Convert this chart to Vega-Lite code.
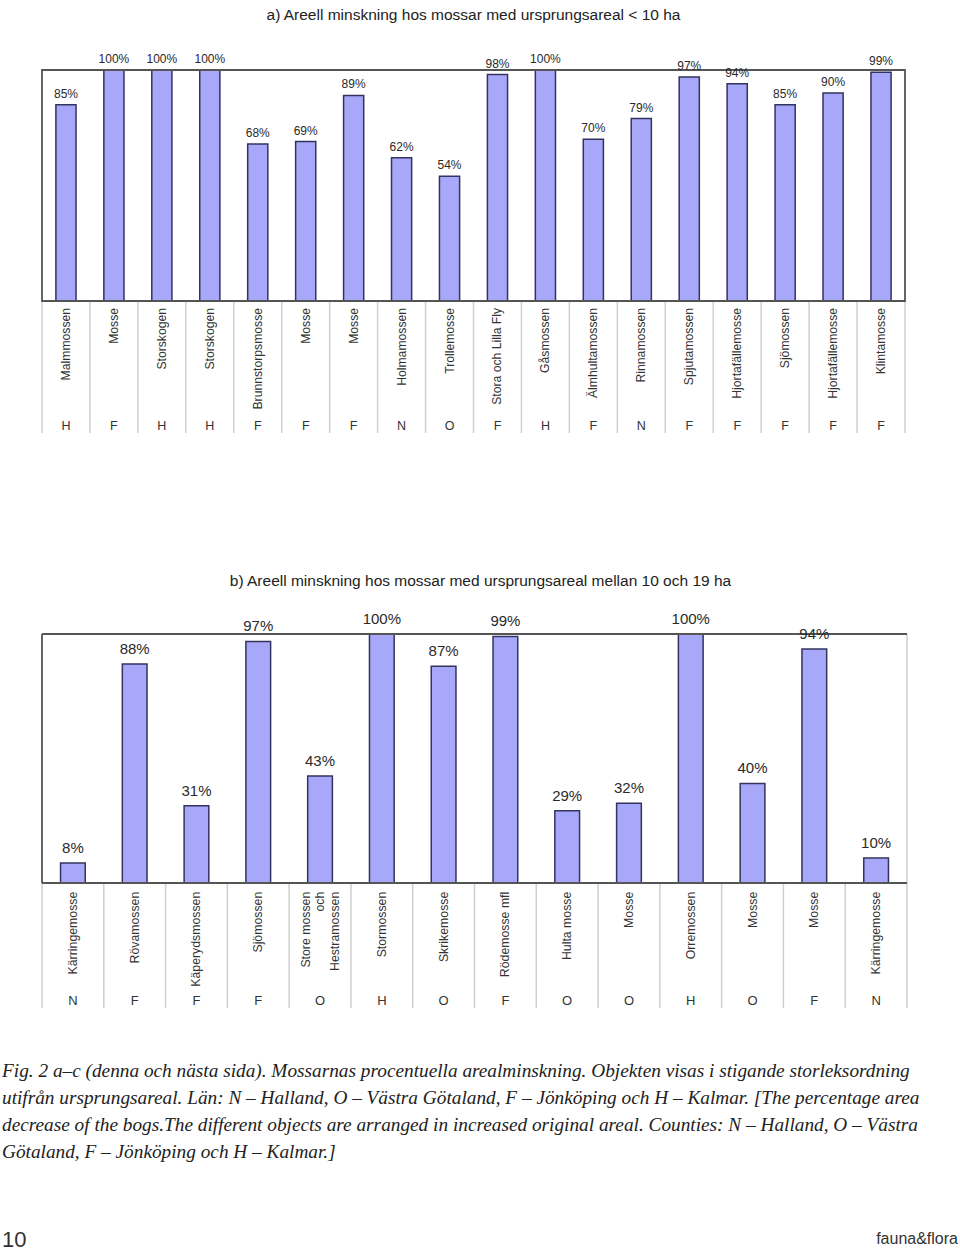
{
  "$schema": "https://vega.github.io/schema/vega-lite/v6.json",
  "background": "white",
  "padding": {"left": 2, "top": 7, "right": 0, "bottom": 0},
  "autosize": {"type": "pad"},
  "bounds": "flush",
  "spacing": 0,
  "config": {"view": {"stroke": null}, "font": "Liberation Sans"},
  "datasets": {
    "a": [
      {"id": 1, "name": "Malmmossen", "lan": "H", "pct": 0.85},
      {"id": 2, "name": "Mosse", "lan": "F", "pct": 1.0},
      {"id": 3, "name": "Storskogen", "lan": "H", "pct": 1.0},
      {"id": 4, "name": "Storskogen", "lan": "H", "pct": 1.0},
      {"id": 5, "name": "Brunnstorpsmosse", "lan": "F", "pct": 0.68},
      {"id": 6, "name": "Mosse", "lan": "F", "pct": 0.69},
      {"id": 7, "name": "Mosse", "lan": "F", "pct": 0.89},
      {"id": 8, "name": "Holmamossen", "lan": "N", "pct": 0.62},
      {"id": 9, "name": "Trollemosse", "lan": "O", "pct": 0.54},
      {"id": 10, "name": "Stora och Lilla Fly", "lan": "F", "pct": 0.98},
      {"id": 11, "name": "Gåsmossen", "lan": "H", "pct": 1.0},
      {"id": 12, "name": "Älmhultamossen", "lan": "F", "pct": 0.70},
      {"id": 13, "name": "Rinnamossen", "lan": "N", "pct": 0.79},
      {"id": 14, "name": "Spjutamossen", "lan": "F", "pct": 0.97},
      {"id": 15, "name": "Hjortafällemosse", "lan": "F", "pct": 0.94},
      {"id": 16, "name": "Sjömossen", "lan": "F", "pct": 0.85},
      {"id": 17, "name": "Hjortafällemosse", "lan": "F", "pct": 0.90},
      {"id": 18, "name": "Klintamosse", "lan": "F", "pct": 0.99}
    ],
    "b": [
      {"id": 1, "name": "Kärringemosse", "lan": "N", "pct": 0.08},
      {"id": 2, "name": "Rövamossen", "lan": "F", "pct": 0.88},
      {"id": 3, "name": "Käperydsmossen", "lan": "F", "pct": 0.31},
      {"id": 4, "name": "Sjömossen", "lan": "F", "pct": 0.97},
      {"id": 5, "name": "Store mossen\noch\nHestramossen", "lan": "O", "pct": 0.43},
      {"id": 6, "name": "Stormossen", "lan": "H", "pct": 1.0},
      {"id": 7, "name": "Skrikemosse", "lan": "O", "pct": 0.87},
      {"id": 8, "name": "Rödemosse mfl", "lan": "F", "pct": 0.99},
      {"id": 9, "name": "Hulta mosse", "lan": "O", "pct": 0.29},
      {"id": 10, "name": "Mosse", "lan": "O", "pct": 0.32},
      {"id": 11, "name": "Orremossen", "lan": "H", "pct": 1.0},
      {"id": 12, "name": "Mosse", "lan": "O", "pct": 0.40},
      {"id": 13, "name": "Mosse", "lan": "F", "pct": 0.94},
      {"id": 14, "name": "Kärringemosse", "lan": "N", "pct": 0.10}
    ]
  },
  "vconcat": [
    {
      "width": 863,
      "height": 564,
      "data": {"name": "a"},
      "title": {"text": "a) Areell minskning hos mossar med ursprungsareal < 10 ha", "font": "Liberation Sans", "fontSize": 15.5, "fontWeight": "normal", "color": "#222", "anchor": "middle", "baseline": "alphabetic", "offset": 18},
      "encoding": {
        "x": {"field": "id", "type": "ordinal", "axis": null, "scale": {"type": "band", "paddingInner": 0, "paddingOuter": 0}}
      },
      "layer": [
        {
          "mark": {"type": "rule", "color": "#cfcfcf", "strokeWidth": 1.5},
          "encoding": {
            "x": {"field": "id", "type": "ordinal", "bandPosition": 0},
            "y": {"datum": 0, "type": "quantitative", "scale": {"domain": [-1.4416, 1], "nice": false, "zero": false}, "axis": null},
            "y2": {"datum": -0.5714}
          }
        },
        {
          "data": {"values": [{}]},
          "mark": {"type": "rule", "color": "#cfcfcf", "strokeWidth": 1.5},
          "encoding": {"x": {"value": "width"}, "y": {"datum": 0, "type": "quantitative"}, "y2": {"datum": -0.5714}}
        },
        {
          "mark": {"type": "bar", "fill": "#a8a8fb", "stroke": "#33335e", "strokeWidth": 1.5, "width": {"band": 0.42}},
          "encoding": {"y": {"field": "pct", "type": "quantitative"}, "y2": {"datum": 0}}
        },
        {
          "data": {"values": [{}]},
          "mark": {"type": "rect", "filled": false, "stroke": "#555", "strokeWidth": 1.8},
          "encoding": {"x": {"value": 0}, "x2": {"value": "width"}, "y": {"datum": 1, "type": "quantitative"}, "y2": {"datum": 0}}
        },
        {
          "mark": {"type": "text", "fontSize": 12, "color": "#2a2a2a", "baseline": "alphabetic", "dy": -7},
          "encoding": {"y": {"field": "pct", "type": "quantitative"}, "text": {"field": "pct", "format": ".0%"}}
        },
        {
          "mark": {"type": "text", "fontSize": 12.2, "color": "#333", "angle": 270, "align": "right", "baseline": "middle"},
          "encoding": {"y": {"datum": -0.03, "type": "quantitative"}, "text": {"field": "name"}}
        },
        {
          "mark": {"type": "text", "fontSize": 12.5, "color": "#333", "align": "center", "baseline": "middle"},
          "encoding": {"y": {"datum": -0.541, "type": "quantitative"}, "text": {"field": "lan"}}
        }
      ]
    },
    {
      "width": 865,
      "height": 374,
      "data": {"name": "b"},
      "title": {"text": "b) Areell minskning hos mossar med ursprungsareal mellan 10 och 19 ha", "font": "Liberation Sans", "fontSize": 15.5, "fontWeight": "normal", "color": "#222", "anchor": "middle", "baseline": "alphabetic", "offset": 11, "dx": 6},
      "encoding": {
        "x": {"field": "id", "type": "ordinal", "axis": null, "scale": {"type": "band", "paddingInner": 0, "paddingOuter": 0}}
      },
      "layer": [
        {
          "mark": {"type": "rule", "color": "#cfcfcf", "strokeWidth": 1.5},
          "encoding": {
            "x": {"field": "id", "type": "ordinal", "bandPosition": 0},
            "y": {"datum": 0, "type": "quantitative", "scale": {"domain": [-0.502, 1], "nice": false, "zero": false}, "axis": null},
            "y2": {"datum": -0.502}
          }
        },
        {
          "data": {"values": [{}]},
          "mark": {"type": "rule", "color": "#cfcfcf", "strokeWidth": 1.5},
          "encoding": {"x": {"value": "width"}, "y": {"datum": 1, "type": "quantitative"}, "y2": {"datum": -0.502}}
        },
        {
          "mark": {"type": "bar", "fill": "#a8a8fb", "stroke": "#33335e", "strokeWidth": 1.5, "width": {"band": 0.4}},
          "encoding": {"y": {"field": "pct", "type": "quantitative"}, "y2": {"datum": 0}}
        },
        {
          "data": {"values": [{}]},
          "mark": {"type": "rule", "color": "#555", "strokeWidth": 1.8},
          "encoding": {"x": {"value": 0}, "x2": {"value": "width"}, "y": {"datum": 1, "type": "quantitative"}}
        },
        {
          "data": {"values": [{}]},
          "mark": {"type": "rule", "color": "#555", "strokeWidth": 1.8},
          "encoding": {"x": {"value": 0}, "x2": {"value": "width"}, "y": {"datum": 0, "type": "quantitative"}}
        },
        {
          "data": {"values": [{}]},
          "mark": {"type": "rule", "color": "#555", "strokeWidth": 1.8},
          "encoding": {"x": {"value": 0}, "y": {"datum": 1, "type": "quantitative"}, "y2": {"datum": 0}}
        },
        {
          "mark": {"type": "text", "fontSize": 15, "color": "#2a2a2a", "baseline": "alphabetic", "dy": -10},
          "encoding": {"y": {"field": "pct", "type": "quantitative"}, "text": {"field": "pct", "format": ".0%"}}
        },
        {
          "transform": [{"filter": "datum.id != 5"}],
          "mark": {"type": "text", "fontSize": 12.3, "color": "#333", "angle": 270, "align": "right", "baseline": "middle"},
          "encoding": {"y": {"datum": -0.035, "type": "quantitative"}, "text": {"field": "name"}}
        },
        {
          "transform": [{"filter": "datum.id == 5"}],
          "mark": {"type": "text", "fontSize": 12.3, "color": "#333", "angle": 270, "align": "right", "baseline": "middle", "lineBreak": "\n", "lineHeight": 14.5, "dy": -14.5},
          "encoding": {"y": {"datum": -0.035, "type": "quantitative"}, "text": {"field": "name"}}
        },
        {
          "mark": {"type": "text", "fontSize": 13, "color": "#333", "align": "center", "baseline": "middle"},
          "encoding": {"y": {"datum": -0.474, "type": "quantitative"}, "text": {"field": "lan"}}
        }
      ]
    },
    {
      "width": 863,
      "height": 243,
      "layer": [
        {
          "data": {"values": [{"t": "Fig. 2 a–c (denna och nästa sida). Mossarnas procentuella arealminskning. Objekten visas i stigande storleksordning\nutifrån ursprungsareal. Län: N – Halland, O – Västra Götaland, F – Jönköping och H – Kalmar. [The percentage area\ndecrease of the bogs.The different objects are arranged in increased original areal. Counties: N – Halland, O – Västra\nGötaland, F – Jönköping och H – Kalmar.]"}]},
          "mark": {"type": "text", "font": "Liberation Serif", "fontStyle": "italic", "fontSize": 19.3, "lineHeight": 27, "lineBreak": "\n", "align": "left", "baseline": "alphabetic", "color": "#222"},
          "encoding": {"x": {"value": -40}, "y": {"value": 69}, "text": {"field": "t"}}
        },
        {
          "data": {"values": [{"t": "10"}]},
          "mark": {"type": "text", "font": "Liberation Sans", "fontSize": 22, "align": "left", "baseline": "alphabetic", "color": "#333"},
          "encoding": {"x": {"value": -40}, "y": {"value": 239}, "text": {"field": "t"}}
        },
        {
          "data": {"values": [{"t": "fauna&flora"}]},
          "mark": {"type": "text", "font": "Liberation Sans", "fontSize": 16, "align": "right", "baseline": "alphabetic", "color": "#333"},
          "encoding": {"x": {"value": 916}, "y": {"value": 236}, "text": {"field": "t"}}
        }
      ]
    }
  ]
}
